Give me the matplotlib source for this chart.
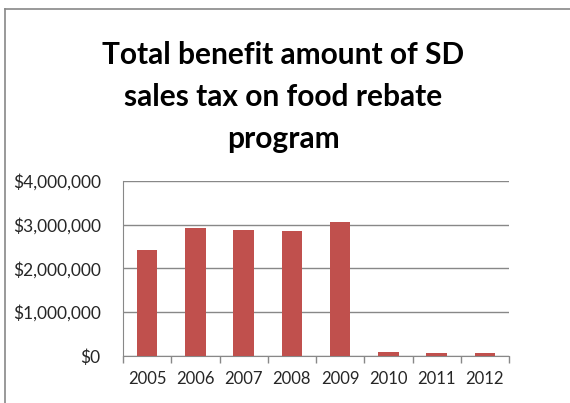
import matplotlib
matplotlib.use("Agg")
import matplotlib.pyplot as plt
from matplotlib.ticker import FuncFormatter, FixedLocator

years = ["2005", "2006", "2007", "2008", "2009", "2010", "2011", "2012"]
benefit = [2420000, 2920000, 2880000, 2850000, 3050000, 100000, 60000, 60000]
yticks = [0, 1000000, 2000000, 3000000, 4000000]

W, H = 570, 403
fig = plt.figure(figsize=(W/100, H/100), dpi=100)
fig.patch.set_facecolor("white")

# outer chart border (only top and left visible)
fig.add_artist(plt.Line2D([5/W, 1.0], [1-9/H, 1-9/H], color="#888888", lw=1.2))
fig.add_artist(plt.Line2D([5/W, 5/W], [0, 1-9/H], color="#888888", lw=1.2))

ax = fig.add_axes([123/W, 1-356/H, (509-123)/W, (356-180.7)/H])
x = list(range(len(years)))
ax.bar(x, benefit, width=0.42, color="#C0504D", zorder=3)
ax.set_xlim(-0.5, len(years)-0.5)
ax.set_ylim(0, 4000000)
ax.set_yticks(yticks)
ax.yaxis.set_major_formatter(FuncFormatter(lambda v, p: "${:,.0f}".format(v)))
ax.set_xticks(x)
ax.set_xticklabels(years)
ax.xaxis.set_minor_locator(FixedLocator([i-0.5 for i in range(len(years)+1)]))
ax.tick_params(axis="x", which="major", length=0, pad=11)
ax.tick_params(axis="x", which="minor", length=5, color="#888888", width=1)
ax.tick_params(axis="y", length=0, pad=16)
ax.grid(axis="y", color="#888888", lw=1, zorder=0)
for s in ["top", "right"]:
    ax.spines[s].set_visible(False)
ax.spines["left"].set_color("#888888")
ax.spines["bottom"].set_color("#888888")
for lab in ax.get_yticklabels():
    lab.set_family("Lato")
    lab.set_fontsize(12.5)
    lab.set_color("#262626")
for lab in ax.get_xticklabels():
    lab.set_family("Lato")
    lab.set_fontsize(12)
    lab.set_color("#262626")

fig.text(283/W, 1-97/H, "Total benefit amount of SD\nsales tax on food rebate\nprogram",
         ha="center", va="center", fontsize=21.5, fontweight="bold", family="Lato",
         linespacing=1.6, color="black")

fig.savefig("out.png", dpi=100)
